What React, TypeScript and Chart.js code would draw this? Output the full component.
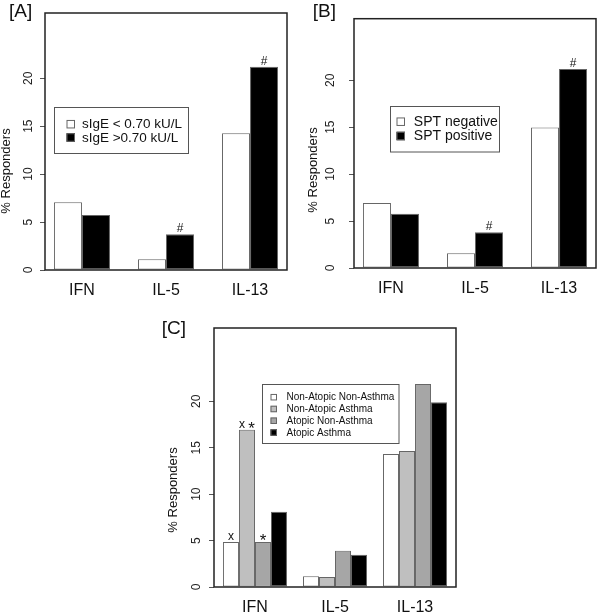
import React, { useEffect, useRef } from "react";
import { Chart, registerables } from "chart.js";

Chart.register(...registerables);

const FONT = "'Liberation Sans', Arial, Helvetica, sans-serif";

// ---------------- data ----------------
const categories = ["IFN", "IL-5", "IL-13"];
const yTickValues = [0, 5, 10, 15, 20];
const yTitle = "% Responders";

const labelsA = ["sIgE < 0.70 kU/L", "sIgE >0.70 kU/L"];
const sIgeLow = [7.07, 1.11, 14.27];
const sIgeHigh = [5.74, 3.72, 21.19];
const marksSIgeLow = ["", "", ""];
const marksSIgeHigh = ["", "#", "#"];

const labelsB = ["SPT negative", "SPT positive"];
const sptNegative = [6.93, 1.56, 14.97];
const sptPositive = [5.78, 3.81, 21.2];
const marksSptNegative = ["", "", ""];
const marksSptPositive = ["", "#", "#"];

const labelsC = ["Non-Atopic Non-Asthma", "Non-Atopic Asthma", "Atopic Non-Asthma", "Atopic Asthma"];
const nonAtopicNonAsthma = [4.85, 1.15, 14.33];
const nonAtopicAsthma = [16.95, 1.08, 14.65];
const atopicNonAsthma = [4.85, 3.91, 21.87];
const atopicAsthma = [8.11, 3.48, 19.89];
const marksNonAtopicNonAsthma = ["x", "", ""];
const marksNonAtopicAsthma = ["x *", "", ""];
const marksAtopicNonAsthma = ["*", "", ""];
const marksAtopicAsthma = ["", "", ""];

// ---------------- layout / style ----------------
type Series = { label: string; values: number[]; marks: string[]; color: string };
type Panel = {
  tag: string;
  series: Series[];
  canvas: { left: number; top: number; width: number; height: number };
  area: { left: number; top: number; right: number; bottom: number };
  yMax: number;
  tickPad: number;
  tag_xy: [number, number];
  title_xy: [number, number];
  legend: { x: number; y: number; w: number; h: number; sqX: number; sq: number; textX: number; row0: number; rowH: number; font: number };
  markFont: number;
};

const panels: Panel[] = [
  {
    tag: "[A]",
    series: [
      { label: labelsA[0], values: sIgeLow, marks: marksSIgeLow, color: "#ffffff" },
      { label: labelsA[1], values: sIgeHigh, marks: marksSIgeHigh, color: "#000000" },
    ],
    canvas: { left: 0, top: 0, width: 300, height: 300 },
    area: { left: 45, top: 13, right: 287, bottom: 270 },
    yMax: 26.8,
    tickPad: 4.3,
    tag_xy: [9, 17],
    title_xy: [6, 171],
    legend: { x: 54.5, y: 107.5, w: 134, h: 46, sqX: 12, sq: 8.5, textX: 27.4, row0: 16.7, rowH: 13.3, font: 13.5 },
    markFont: 12,
  },
  {
    tag: "[B]",
    series: [
      { label: labelsB[0], values: sptNegative, marks: marksSptNegative, color: "#ffffff" },
      { label: labelsB[1], values: sptPositive, marks: marksSptPositive, color: "#000000" },
    ],
    canvas: { left: 300, top: 0, width: 300, height: 300 },
    area: { left: 54, top: 13, right: 296, bottom: 268 },
    yMax: 26.55,
    tickPad: 11.5,
    tag_xy: [12.7, 17],
    title_xy: [13, 170],
    legend: { x: 90.5, y: 106.5, w: 109, h: 45.5, sqX: 6, sq: 8.5, textX: 23.3, row0: 15.2, rowH: 14.3, font: 14 },
    markFont: 12,
  },
  {
    tag: "[C]",
    series: [
      { label: labelsC[0], values: nonAtopicNonAsthma, marks: marksNonAtopicNonAsthma, color: "#ffffff" },
      { label: labelsC[1], values: nonAtopicAsthma, marks: marksNonAtopicAsthma, color: "#bfbfbf" },
      { label: labelsC[2], values: atopicNonAsthma, marks: marksAtopicNonAsthma, color: "#a6a6a6" },
      { label: labelsC[3], values: atopicAsthma, marks: marksAtopicAsthma, color: "#000000" },
    ],
    canvas: { left: 150, top: 300, width: 320, height: 314 },
    area: { left: 64, top: 28, right: 306, bottom: 287 },
    yMax: 27.9,
    tickPad: 5.8,
    tag_xy: [11.7, 34],
    title_xy: [23, 190],
    legend: { x: 112.5, y: 84.5, w: 136.5, h: 59, sqX: 8, sq: 6.5, textX: 24, row0: 12.7, rowH: 11.77, font: 10 },
    markFont: 12,
  },
];

// group centre in barplot units (space = 1 bar between groups)
const groupCenter = (i: number, k: number) => 1 + i * (k + 1) + k / 2;

function decorPlugin(p: Panel) {
  return {
    id: "decor",
    afterDatasetsDraw(chart: any) {
      const { ctx, chartArea: a } = chart;
      ctx.save();
      // annotations above bars
      ctx.fillStyle = "#111";
      ctx.textBaseline = "alphabetic";
      ctx.textAlign = "left";
      const fontFor = (ch: string) => `${ch === "*" ? p.markFont + 5 : p.markFont}px ${FONT}`;
      chart.data.datasets.forEach((_ds: any, di: number) => {
        const meta = chart.getDatasetMeta(di);
        meta.data.forEach((el: any, i: number) => {
          const m = p.series[di].marks[i];
          if (!m) return;
          const chars = Array.from(m);
          const widths = chars.map((ch) => {
            ctx.font = fontFor(ch);
            return ctx.measureText(ch).width;
          });
          const total = widths.reduce((s, v) => s + v, 0);
          let x = el.x - total / 2;
          const bottom = el.y - 2;
          chars.forEach((ch, j) => {
            ctx.font = fontFor(ch);
            const mt = ctx.measureText(ch);
            const desc = mt.actualBoundingBoxDescent || 0;
            if (ch.trim()) ctx.fillText(ch, x, bottom - desc);
            x += widths[j];
          });
        });
      });
      // plot box
      ctx.strokeStyle = "#222";
      ctx.lineWidth = 1.5;
      ctx.strokeRect(a.left, a.top, a.right - a.left, a.bottom - a.top);
      ctx.restore();
    },
    afterDraw(chart: any) {
      const { ctx } = chart;
      ctx.save();
      // panel tag
      ctx.fillStyle = "#111";
      ctx.font = `19px ${FONT}`;
      ctx.textAlign = "left";
      ctx.textBaseline = "alphabetic";
      ctx.fillText(p.tag, p.tag_xy[0], p.tag_xy[1]);
      // y title
      ctx.save();
      ctx.translate(p.title_xy[0], p.title_xy[1]);
      ctx.rotate(-Math.PI / 2);
      ctx.font = `13px ${FONT}`;
      ctx.textAlign = "center";
      ctx.textBaseline = "middle";
      ctx.fillText(yTitle, 0, 0);
      ctx.restore();
      // legend
      const L = p.legend;
      ctx.fillStyle = "#fff";
      ctx.fillRect(L.x, L.y, L.w, L.h);
      ctx.strokeStyle = "#555";
      ctx.lineWidth = 1;
      ctx.strokeRect(L.x, L.y, L.w, L.h);
      ctx.font = `${L.font}px ${FONT}`;
      ctx.textBaseline = "middle";
      ctx.textAlign = "left";
      p.series.forEach((s, i) => {
        const cy = L.y + L.row0 + i * L.rowH;
        ctx.fillStyle = s.color;
        ctx.fillRect(L.x + L.sqX, cy - L.sq / 2, L.sq, L.sq);
        ctx.strokeStyle = "#666";
        ctx.strokeRect(L.x + L.sqX + 0.5, cy - L.sq / 2 + 0.5, L.sq - 1, L.sq - 1);
        ctx.fillStyle = "#111";
        ctx.fillText(s.label, L.x + L.textX, cy + 0.5);
      });
      ctx.restore();
    },
  };
}

function makeConfig(p: Panel): any {
  const k = p.series.length;
  const G = categories.length;
  const w = G * (k + 1) - 1;
  const xMin = 1 - 0.04 * w;
  const xMax = G * (k + 1) + 0.04 * w;
  return {
    type: "bar",
    data: {
      datasets: p.series.map((s) => ({
        label: s.label,
        data: s.values.map((v, i) => ({ x: groupCenter(i, k), y: v })),
        backgroundColor: s.color,
        borderColor: "#666",
        borderWidth: 1,
        borderSkipped: false,
        categoryPercentage: k / (k + 1),
        barPercentage: 1,
      })),
    },
    options: {
      animation: false,
      responsive: false,
      maintainAspectRatio: false,
      layout: {
        padding: { left: 0, top: p.area.top, right: p.canvas.width - p.area.right, bottom: 0 },
      },
      plugins: { legend: { display: false }, tooltip: { enabled: false }, title: { display: false } },
      scales: {
        x: {
          type: "linear",
          min: xMin,
          max: xMax,
          offset: false,
          grid: { display: false, drawTicks: false, tickLength: 0 },
          border: { display: false },
          afterBuildTicks: (scale: any) => {
            scale.ticks = categories.map((_c, i) => ({ value: groupCenter(i, k) }));
          },
          afterFit: (scale: any) => {
            scale.height = p.canvas.height - p.area.bottom;
          },
          ticks: {
            autoSkip: false,
            maxRotation: 0,
            minRotation: 0,
            padding: 11,
            color: "#111",
            font: { family: FONT, size: 16 },
            callback: (_v: any, i: number) => categories[i],
          },
        },
        y: {
          type: "linear",
          min: 0,
          max: p.yMax,
          grid: { display: true, drawOnChartArea: false, drawTicks: true, tickLength: 5, color: "#555", lineWidth: 1 },
          border: { display: false },
          afterBuildTicks: (scale: any) => {
            scale.ticks = yTickValues.map((v) => ({ value: v }));
          },
          afterFit: (scale: any) => {
            scale.width = p.area.left;
          },
          ticks: {
            minRotation: 90,
            maxRotation: 90,
            crossAlign: "center",
            padding: p.tickPad,
            color: "#222",
            font: { family: FONT, size: 12 },
            callback: (v: any) => String(v),
          },
        },
      },
    },
    plugins: [decorPlugin(p)],
  };
}

function PanelChart({ p }: { p: Panel }) {
  const ref = useRef<HTMLCanvasElement | null>(null);
  useEffect(() => {
    if (!ref.current) return;
    const chart = new Chart(ref.current, makeConfig(p));
    return () => chart.destroy();
  }, [p]);
  return (
    <canvas
      ref={ref}
      width={p.canvas.width}
      height={p.canvas.height}
      style={{
        position: "absolute",
        left: p.canvas.left,
        top: p.canvas.top,
        width: p.canvas.width,
        height: p.canvas.height,
      }}
    />
  );
}

export default function App() {
  return (
    <div
      style={{
        position: "fixed",
        left: 0,
        top: 0,
        width: 600,
        height: 614,
        background: "#ffffff",
        overflow: "hidden",
      }}
    >
      {panels.map((p) => (
        <PanelChart key={p.tag} p={p} />
      ))}
    </div>
  );
}
